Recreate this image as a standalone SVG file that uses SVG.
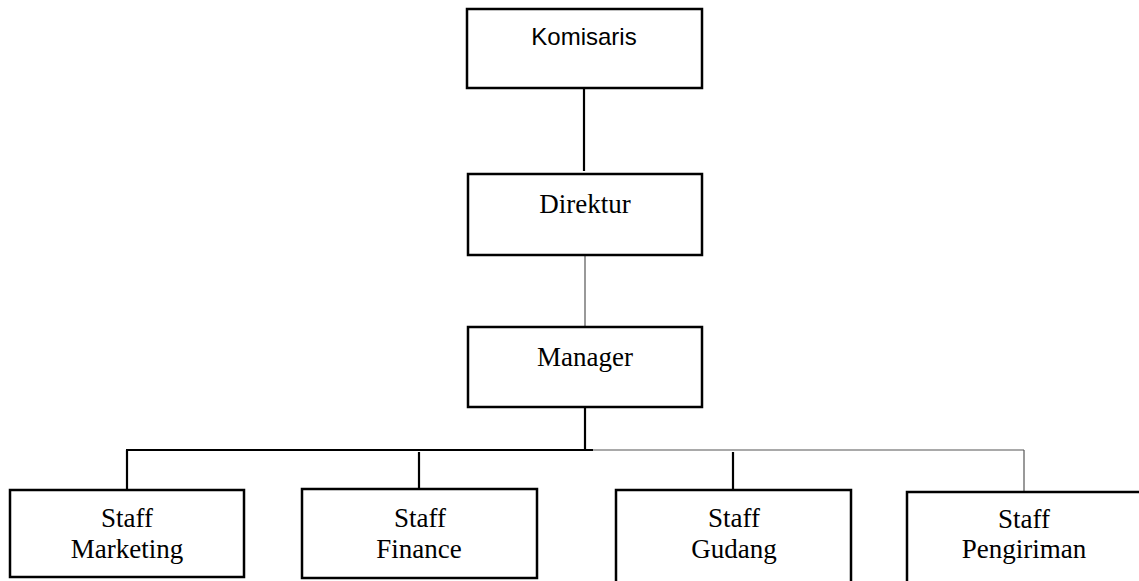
<svg xmlns="http://www.w3.org/2000/svg" width="1139" height="581" viewBox="0 0 1139 581">
<style>
.box{fill:#fff;stroke:#000;stroke-width:2.5}
.t{font-family:"Liberation Serif","Times New Roman",serif;font-size:27px;fill:#000;text-anchor:middle}
.s{font-family:"Liberation Sans",Arial,sans-serif;font-size:24px;fill:#000;text-anchor:middle}
.thick{stroke:#000;stroke-width:2.2;fill:none}
.thin{stroke:#555;stroke-width:1.2;fill:none}
</style>
<rect width="1139" height="581" fill="#fff"/>
<g id="connectors">
<line class="thick" x1="584" y1="88" x2="584" y2="171"/>
<line class="thin" x1="585" y1="255" x2="585" y2="327"/>
<line class="thick" x1="585" y1="407" x2="585" y2="450"/>
<line class="thick" x1="126" y1="450" x2="593" y2="450"/>
<line class="thin" x1="593" y1="450" x2="1024" y2="450"/>
<line class="thick" x1="127" y1="450" x2="127" y2="490"/>
<line class="thick" x1="419" y1="452" x2="419" y2="489"/>
<line class="thick" x1="733" y1="452" x2="733" y2="490"/>
<line class="thin" x1="1024" y1="450" x2="1024" y2="492"/>
</g>
<g id="komisaris">
<rect class="box" x="467" y="9" width="235" height="79"/>
<text class="s" x="584" y="45">Komisaris</text>
</g>
<g id="direktur">
<rect class="box" x="468" y="174" width="234" height="81"/>
<text class="t" x="585" y="213">Direktur</text>
</g>
<g id="manager">
<rect class="box" x="468" y="327" width="234" height="80"/>
<text class="t" x="585" y="366">Manager</text>
</g>
<g id="staff-marketing">
<rect class="box" x="10" y="490" width="234" height="87"/>
<text class="t" x="127" y="527">Staff</text>
<text class="t" x="127" y="558">Marketing</text>
</g>
<g id="staff-finance">
<rect class="box" x="302" y="489" width="235" height="89"/>
<text class="t" x="420" y="527">Staff</text>
<text class="t" x="419" y="558">Finance</text>
</g>
<g id="staff-gudang">
<rect class="box" x="616" y="490" width="235" height="100"/>
<text class="t" x="734" y="527">Staff</text>
<text class="t" x="734" y="558">Gudang</text>
</g>
<g id="staff-pengiriman">
<rect class="box" x="907" y="492" width="240" height="100"/>
<text class="t" x="1024" y="528">Staff</text>
<text class="t" x="1024" y="558">Pengiriman</text>
</g>
</svg>
